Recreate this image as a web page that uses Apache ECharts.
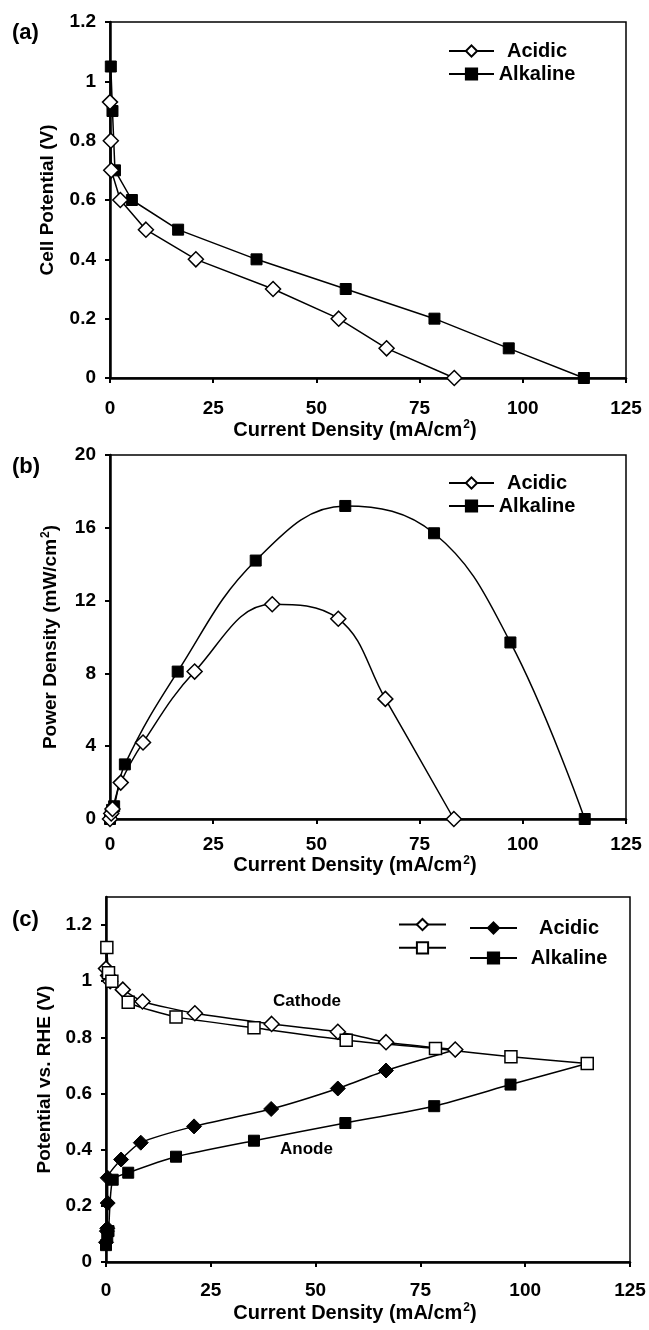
<!DOCTYPE html>
<html>
<head>
<meta charset="utf-8">
<script src="https://cdn.jsdelivr.net/npm/echarts@6/dist/echarts.min.js"></script>
<style>
  html, body { margin: 0; padding: 0; background: #fff; }
  #main { width: 649px; height: 1330px; }
</style>
</head>
<body>
<div id="main"></div>
<script>
// x ticks (current density, mA/cm2)
const xMin = 0, xMax = 125, xStep = 25
// (c) y tick values (axis runs a bit above the last label)
const cTicks = [0, 0.2, 0.4, 0.6, 0.8, 1, 1.2]

// (a) polarization curves: [current density, cell potential]
const aAcidic = [[0, 0.93], [0.2, 0.8], [0.3, 0.7], [2.5, 0.6], [8.7, 0.5], [20.8, 0.4], [39.5, 0.3], [55.4, 0.2], [67, 0.1], [83.4, 0]]
const aAlkaline = [[0.2, 1.05], [0.6, 0.9], [1.2, 0.7], [5.3, 0.6], [16.5, 0.5], [35.5, 0.4], [57.1, 0.3], [78.6, 0.2], [96.6, 0.1], [114.8, 0]]

// (b) power density curves: [current density, power density]
const bAcidic = [[0, 0], [0.3, 0.3], [0.6, 0.55], [2.6, 2.0], [8, 4.2], [20.5, 8.1], [39.3, 11.8], [55.3, 11.0], [66.7, 6.6], [83.3, 0]]
const bAlkaline = [[0, 0], [0.2, 0.2], [0.5, 0.5], [1, 0.7], [3.6, 3.0], [16.4, 8.1], [35.3, 14.2], [57, 17.2], [78.5, 15.7], [97, 9.7], [115, 0]]

// (c) electrode potentials vs RHE
const cCathodeAcidic = [[0, 1.045], [0.5, 1.02], [1, 1.0], [4, 0.97], [8.7, 0.928], [21.2, 0.886], [39.5, 0.848], [55.3, 0.82], [66.8, 0.783], [83.3, 0.757]]
const cCathodeAlkaline = [[0.2, 1.12], [0.6, 1.03], [1.4, 1.0], [5.3, 0.925], [16.7, 0.873], [35.3, 0.834], [57.3, 0.79], [78.6, 0.76], [96.6, 0.731], [114.8, 0.707]]
const cAnodeAcidic = [[0, 0.07], [0.2, 0.11], [0.3, 0.12], [0.4, 0.21], [0.4, 0.3], [3.6, 0.365], [8.3, 0.425], [21, 0.483], [39.4, 0.545], [55.3, 0.618], [66.8, 0.682], [83.3, 0.756]]
const cAnodeAlkaline = [[0, 0.06], [0.3, 0.09], [0.6, 0.11], [1.6, 0.293], [5.3, 0.318], [16.7, 0.375], [35.3, 0.432], [57.1, 0.495], [78.3, 0.555], [96.5, 0.632], [114.8, 0.707]]

const font = '"Liberation Sans", Arial, sans-serif'
const richSup = {
    sup: { fontFamily: font, fontWeight: 'bold', fontSize: 12, verticalAlign: 'bottom', padding: [0, 0, 10, 1] }
}

const openDiamond = { symbol: 'diamond', symbolSize: 15, itemStyle: { color: '#fff', borderColor: '#000', borderWidth: 1.5 } }
const filledDiamond = { symbol: 'diamond', symbolSize: 15, itemStyle: { color: '#000', borderColor: '#000', borderWidth: 1 } }
const openSquare = { symbol: 'rect', symbolSize: 12, itemStyle: { color: '#fff', borderColor: '#000', borderWidth: 1.5 } }
const filledSquare = { symbol: 'rect', symbolSize: 11, itemStyle: { color: '#000', borderColor: '#000', borderWidth: 1 } }

function makeX(gridIndex, margin, gap) {
    return {
        type: 'value', gridIndex, min: xMin, max: xMax, interval: xStep,
        name: 'Current Density (mA/cm{sup|2})',
        nameLocation: 'middle', nameGap: gap,
        nameTextStyle: { fontFamily: font, fontWeight: 'bold', fontSize: 20, color: '#000', padding: [0, 26, 0, 0], rich: richSup },
        axisLine: { lineStyle: { color: '#000', width: 2.5 } },
        axisTick: { length: 5, lineStyle: { color: '#000', width: 2 } },
        axisLabel: { fontFamily: font, fontWeight: 'bold', fontSize: 19, color: '#000', margin },
        splitLine: { show: false }
    }
}

function makeY(gridIndex, max, interval, name, gap, ticks) {
    const y = {
        type: 'value', gridIndex, min: 0, max, interval,
        name, nameLocation: 'middle', nameGap: gap,
        nameTextStyle: { fontFamily: font, fontWeight: 'bold', fontSize: 19, color: '#000', rich: richSup },
        axisLine: { lineStyle: { color: '#000', width: 2.5 } },
        axisTick: { length: 5, lineStyle: { color: '#000', width: 2 } },
        axisLabel: {
            fontFamily: font, fontWeight: 'bold', fontSize: 19, color: '#000', margin: 14,
            formatter: v => String(+v.toFixed(2))
        },
        splitLine: { show: false }
    }
    if (ticks) {
        y.axisTick.customValues = ticks
        y.axisLabel.customValues = ticks
    }
    return y
}

function line(name, data, idx, marker, smooth) {
    return Object.assign({
        name, type: 'line', data, xAxisIndex: idx, yAxisIndex: idx,
        smooth, clip: false,
        lineStyle: { color: '#000', width: 1.5 }
    }, marker)
}

const gridStyle = { show: true, borderColor: '#000', borderWidth: 1.5 }

function legendText(w) {
    return {
        fontFamily: font, fontWeight: 'bold', fontSize: 20, color: '#000', lineHeight: 20,
        rich: { c: { fontFamily: font, fontWeight: 'bold', fontSize: 20, color: '#000', width: w, align: 'center' } }
    }
}

const option = {
    animation: false,
    backgroundColor: '#fff',
    grid: [
        Object.assign({ left: 110, top: 22, width: 516, height: 356 }, gridStyle),
        Object.assign({ left: 110, top: 455, width: 516, height: 364 }, gridStyle),
        Object.assign({ left: 106, top: 897, width: 524, height: 365 }, gridStyle)
    ],
    xAxis: [makeX(0, 21, 41), makeX(1, 16, 35), makeX(2, 19, 40)],
    yAxis: [
        makeY(0, 1.2, 0.2, 'Cell Potential (V)', 53),
        makeY(1, 20, 4, 'Power Density (mW/cm{sup|2})', 48),
        makeY(2, 1.3, 0.2, 'Potential vs. RHE (V)', 50, cTicks)
    ],
    legend: [
        {
            data: ['Acidic', 'Alkaline'], orient: 'vertical', left: 448, top: 41, padding: 0,
            itemWidth: 45, itemHeight: 14, itemGap: 3, selectedMode: false,
            formatter: n => '{c|' + n + '}',
            textStyle: legendText(76)
        },
        {
            data: ['Acidic ', 'Alkaline '], orient: 'vertical', left: 448, top: 473, padding: 0,
            itemWidth: 45, itemHeight: 14, itemGap: 3, selectedMode: false,
            formatter: n => '{c|' + n.trim() + '}',
            textStyle: legendText(76)
        },
        {
            data: ['Acidic cathode', 'Alkaline cathode'], orient: 'vertical', left: 398, top: 918, padding: 0,
            itemWidth: 47, itemHeight: 14, itemGap: 10, selectedMode: false,
            formatter: () => '',
            textStyle: legendText(0)
        },
        {
            data: ['Acidic anode', 'Alkaline anode'], orient: 'vertical', left: 469, top: 918, padding: 0,
            itemWidth: 47, itemHeight: 14, itemGap: 10, selectedMode: false,
            formatter: n => '{c|' + n.split(' ')[0] + '}',
            textStyle: legendText(94)
        }
    ],
    graphic: [
        { type: 'text', left: 12, top: 22, style: { text: '(a)', font: 'bold 22px ' + font, fill: '#000' } },
        { type: 'text', left: 12, top: 456, style: { text: '(b)', font: 'bold 22px ' + font, fill: '#000' } },
        { type: 'text', left: 12, top: 909, style: { text: '(c)', font: 'bold 22px ' + font, fill: '#000' } },
        { type: 'text', left: 273, top: 993, style: { text: 'Cathode', font: 'bold 17px ' + font, fill: '#000' } },
        { type: 'text', left: 280, top: 1141, style: { text: 'Anode', font: 'bold 17px ' + font, fill: '#000' } }
    ],
    series: [
        line('Alkaline', aAlkaline, 0, filledSquare, false),
        line('Acidic', aAcidic, 0, openDiamond, false),
        line('Alkaline ', bAlkaline, 1, filledSquare, 0.4),
        line('Acidic ', bAcidic, 1, openDiamond, 0.4),
        line('Acidic anode', cAnodeAcidic, 2, filledDiamond, 0.2),
        line('Alkaline anode', cAnodeAlkaline, 2, filledSquare, 0.2),
        line('Acidic cathode', cCathodeAcidic, 2, openDiamond, 0.2),
        line('Alkaline cathode', cCathodeAlkaline, 2, openSquare, 0.2)
    ]
}

const chart = echarts.init(document.getElementById('main'))
chart.setOption(option)
</script>
</body>
</html>
